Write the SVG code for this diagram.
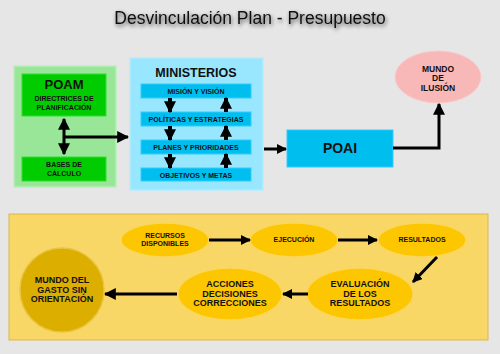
<svg xmlns="http://www.w3.org/2000/svg" width="500" height="354" viewBox="0 0 500 354">
<defs>
<style>
text{font-family:"Liberation Sans",Arial,sans-serif;font-weight:bold;fill:#111;text-anchor:middle}
.title{font-weight:normal;font-size:17.5px;fill:#111}
.bar{fill:#00bfef;stroke:#33ccff;stroke-width:1}
.s7{font-size:7px}
.s8{font-size:8.5px}
.s9{font-size:9px}
.ell{fill:#fcc600;stroke:#fbd65a;stroke-width:1.5}
.ln{stroke:#000;stroke-width:3;fill:none}
.ln2{stroke:#000;stroke-width:4;fill:none}
</style>
<marker id="ah" viewBox="0 0 10 10" refX="9" refY="5" markerWidth="10" markerHeight="10" markerUnits="userSpaceOnUse" orient="auto"><path d="M0,0 L10,5 L0,10 z" fill="#000"/></marker>
<marker id="ahb" viewBox="0 0 10 10" refX="9" refY="5" markerWidth="12" markerHeight="12" markerUnits="userSpaceOnUse" orient="auto-start-reverse"><path d="M0,0 L10,5 L0,10 z" fill="#000"/></marker>
<filter id="sh" x="-10%" y="-50%" width="120%" height="200%"><feGaussianBlur in="SourceAlpha" stdDeviation="2"/><feOffset dx="1" dy="2"/><feComponentTransfer><feFuncA type="linear" slope="0.7"/></feComponentTransfer><feMerge><feMergeNode/><feMergeNode in="SourceGraphic"/></feMerge></filter>
</defs>
<rect width="500" height="354" fill="#e6e6e6"/>
<text class="title" x="250" y="24" filter="url(#sh)">Desvinculación Plan - Presupuesto</text>

<g id="poam-group">
<rect x="14" y="66" width="102" height="121" fill="#99e699" stroke="#b8f0b8" stroke-width="1.5"/>
</g>
<g id="poam">
<rect x="22" y="74" width="84" height="42" fill="#00cc00" stroke="#33dd33" stroke-width="1"/>
<text x="64" y="89" style="font-size:13px">POAM</text>
<text class="s7" x="64" y="100.5">DIRECTRICES DE</text>
<text class="s7" x="64" y="109.5">PLANIFICACIÓN</text>
</g>
<g id="bases">
<rect x="22" y="157" width="84" height="24" fill="#00cc00" stroke="#33dd33" stroke-width="1"/>
<text class="s7" x="64" y="167">BASES DE</text>
<text class="s7" x="64" y="176">CÁLCULO</text>
</g>

<g id="ministerios">
<rect x="130" y="58" width="133" height="132" fill="#99e6ff" stroke="#b3ecff" stroke-width="1.5"/>
<text x="196" y="77" style="font-size:12.5px">MINISTERIOS</text>
</g>
<g id="mision"><rect class="bar" x="141" y="84" width="110" height="14"/><text class="s7" x="196" y="94">MISIÓN Y VISIÓN</text></g>
<g id="politicas"><rect class="bar" x="141" y="112" width="110" height="14"/><text class="s7" x="196" y="122">POLÍTICAS Y ESTRATEGIAS</text></g>
<g id="planes"><rect class="bar" x="141" y="140" width="110" height="14"/><text class="s7" x="196" y="150">PLANES Y PRIORIDADES</text></g>
<g id="objetivos"><rect class="bar" x="141" y="168" width="110" height="13"/><text class="s7" x="196" y="178">OBJETIVOS Y METAS</text></g>

<g id="poai">
<rect x="287" y="130" width="106" height="37" fill="#00bfef" stroke="#33ccff" stroke-width="1"/>
<text x="340" y="153" style="font-size:14px">POAI</text>
</g>
<g id="ilusion">
<ellipse cx="438" cy="77" rx="43" ry="26" fill="#f9b8b8" stroke="#fbcaca" stroke-width="1"/>
<text class="s8" x="438" y="72">MUNDO</text>
<text class="s8" x="438" y="81">DE</text>
<text class="s8" x="438" y="91">ILUSIÓN</text>
</g>

<g id="panel">
<rect x="9" y="214" width="479" height="126" fill="#f9d766" stroke="#d9b84a" stroke-width="1"/>
</g>
<g id="recursos"><ellipse class="ell" cx="165" cy="240" rx="44" ry="17"/><text class="s7" x="165" y="238">RECURSOS</text><text class="s7" x="165" y="246">DISPONIBLES</text></g>
<g id="ejecucion"><ellipse class="ell" cx="294" cy="240" rx="44" ry="17"/><text class="s7" x="294" y="242">EJECUCIÓN</text></g>
<g id="resultados"><ellipse class="ell" cx="422" cy="240" rx="44" ry="17"/><text class="s7" x="422" y="242">RESULTADOS</text></g>
<g id="evaluacion"><ellipse class="ell" cx="360" cy="294" rx="53" ry="26"/><text class="s9" x="360" y="287">EVALUACIÓN</text><text class="s9" x="360" y="296.5">DE LOS</text><text class="s9" x="360" y="306">RESULTADOS</text></g>
<g id="acciones"><ellipse class="ell" cx="230" cy="294" rx="52" ry="26"/><text class="s9" x="230" y="287">ACCIONES</text><text class="s9" x="230" y="296.5">DECISIONES</text><text class="s9" x="230" y="306">CORRECCIONES</text></g>
<g id="gasto"><circle cx="62" cy="290" r="42" fill="#dcae00" stroke="#e8c440" stroke-width="1.5"/><text class="s9" x="62" y="283">MUNDO DEL</text><text class="s9" x="62" y="292.5">GASTO SIN</text><text class="s9" x="62" y="302">ORIENTACIÓN</text></g>

<g id="connectors">
<line class="ln" x1="64" y1="119" x2="64" y2="154" marker-start="url(#ahb)" marker-end="url(#ahb)"/>
<line class="ln" x1="64" y1="137" x2="128" y2="137" marker-end="url(#ahb)"/>
<line class="ln2" x1="170" y1="98" x2="170" y2="112" marker-end="url(#ahb)"/>
<line class="ln2" x1="170" y1="126" x2="170" y2="140" marker-end="url(#ahb)"/>
<line class="ln2" x1="170" y1="154" x2="170" y2="168" marker-end="url(#ahb)"/>
<line class="ln2" x1="226" y1="112" x2="226" y2="98" marker-end="url(#ahb)"/>
<line class="ln2" x1="226" y1="140" x2="226" y2="126" marker-end="url(#ahb)"/>
<line class="ln2" x1="226" y1="168" x2="226" y2="154" marker-end="url(#ahb)"/>
<line class="ln" x1="264" y1="149" x2="286" y2="149" marker-end="url(#ah)"/>
<polyline class="ln" points="393,148 439,148 439,104" marker-end="url(#ahb)"/>
<line class="ln" x1="209" y1="240" x2="250" y2="240" marker-end="url(#ah)"/>
<line class="ln" x1="338" y1="240" x2="377" y2="240" marker-end="url(#ah)"/>
<line class="ln" x1="437" y1="257" x2="413" y2="282" marker-end="url(#ah)"/>
<line class="ln" x1="308" y1="294" x2="283" y2="294" marker-end="url(#ah)"/>
<line class="ln" x1="177" y1="294" x2="105" y2="294" marker-end="url(#ahb)"/>
</g>
</svg>
